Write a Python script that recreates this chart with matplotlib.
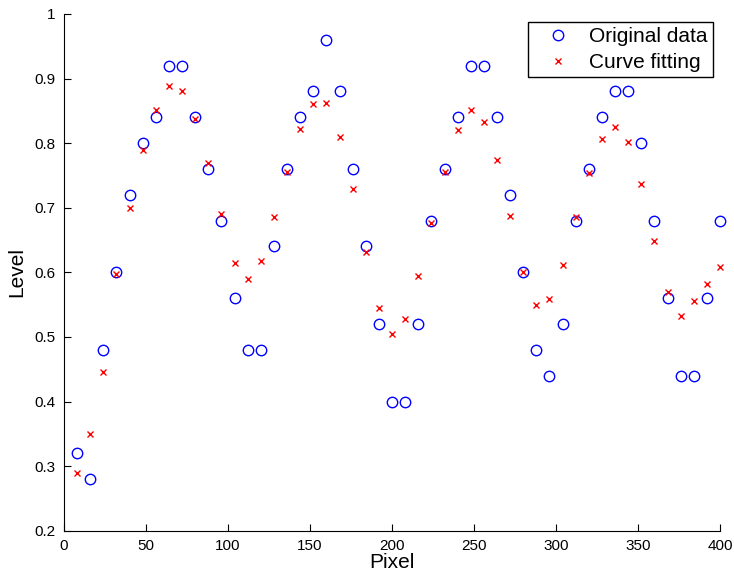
import matplotlib.pyplot as plt
import numpy as np

plt.rcParams['font.family'] = ['Liberation Sans', 'DejaVu Sans']

# pixel positions along the line
pixel = np.arange(8, 401, 8)

# measured levels
level_original = [0.32, 0.28, 0.48, 0.60, 0.72, 0.80, 0.84, 0.92, 0.92, 0.84,
                  0.76, 0.68, 0.56, 0.48, 0.48, 0.64, 0.76, 0.84, 0.88, 0.96,
                  0.88, 0.76, 0.64, 0.52, 0.40, 0.40, 0.52, 0.68, 0.76, 0.84,
                  0.92, 0.92, 0.84, 0.72, 0.60, 0.48, 0.44, 0.52, 0.68, 0.76,
                  0.84, 0.88, 0.88, 0.80, 0.68, 0.56, 0.44, 0.44, 0.56, 0.68]

# fitted levels
level_fit = [0.290, 0.350, 0.445, 0.598, 0.700, 0.789, 0.852, 0.889, 0.880, 0.837,
             0.770, 0.690, 0.615, 0.589, 0.617, 0.686, 0.755, 0.822, 0.860, 0.862,
             0.810, 0.729, 0.631, 0.545, 0.504, 0.528, 0.595, 0.677, 0.755, 0.820,
             0.851, 0.833, 0.774, 0.687, 0.600, 0.549, 0.558, 0.611, 0.686, 0.754,
             0.807, 0.825, 0.801, 0.737, 0.648, 0.569, 0.533, 0.556, 0.582, 0.609]

fig = plt.figure(figsize=(7.34, 5.81), dpi=100)
ax = fig.add_axes([0.0872, 0.0866, 0.8938, 0.8894])

ax.plot(pixel, level_original, linestyle='None', marker='o', markersize=7.5,
        markerfacecolor='none', markeredgecolor='#0000ff', markeredgewidth=1.0,
        label='Original data', clip_on=False)
ax.plot(pixel, level_fit, linestyle='None', marker='x', markersize=5,
        color='#ff0000', markeredgewidth=1.0, label='Curve fitting', clip_on=False)

ax.set_xlim(0, 400)
ax.set_ylim(0.2, 1)
ax.set_xticks(np.arange(0, 401, 50))
ax.set_yticks(np.arange(0.2, 1.01, 0.1))
ax.set_yticklabels(['0.2', '0.3', '0.4', '0.5', '0.6', '0.7', '0.8', '0.9', '1'])
ax.tick_params(direction='in', labelsize=11, length=5, width=0.8, pad=6)

ax.spines['top'].set_visible(False)
ax.spines['right'].set_visible(False)

ax.set_xlabel('Pixel', fontsize=15, labelpad=0)
ax.set_ylabel('Level', fontsize=15, labelpad=6)

# legend handle kept long so the marker sits well inside the box
leg = ax.legend(loc='upper right', fontsize=15, fancybox=False, framealpha=1,
                edgecolor='black', borderpad=0.25, handlelength=2.4,
                handletextpad=0.3, labelspacing=0.35, borderaxespad=0,
                bbox_to_anchor=(0.989, 0.985))
leg.get_frame().set_linewidth(1.0)

fig.savefig('out.png', dpi=100)
